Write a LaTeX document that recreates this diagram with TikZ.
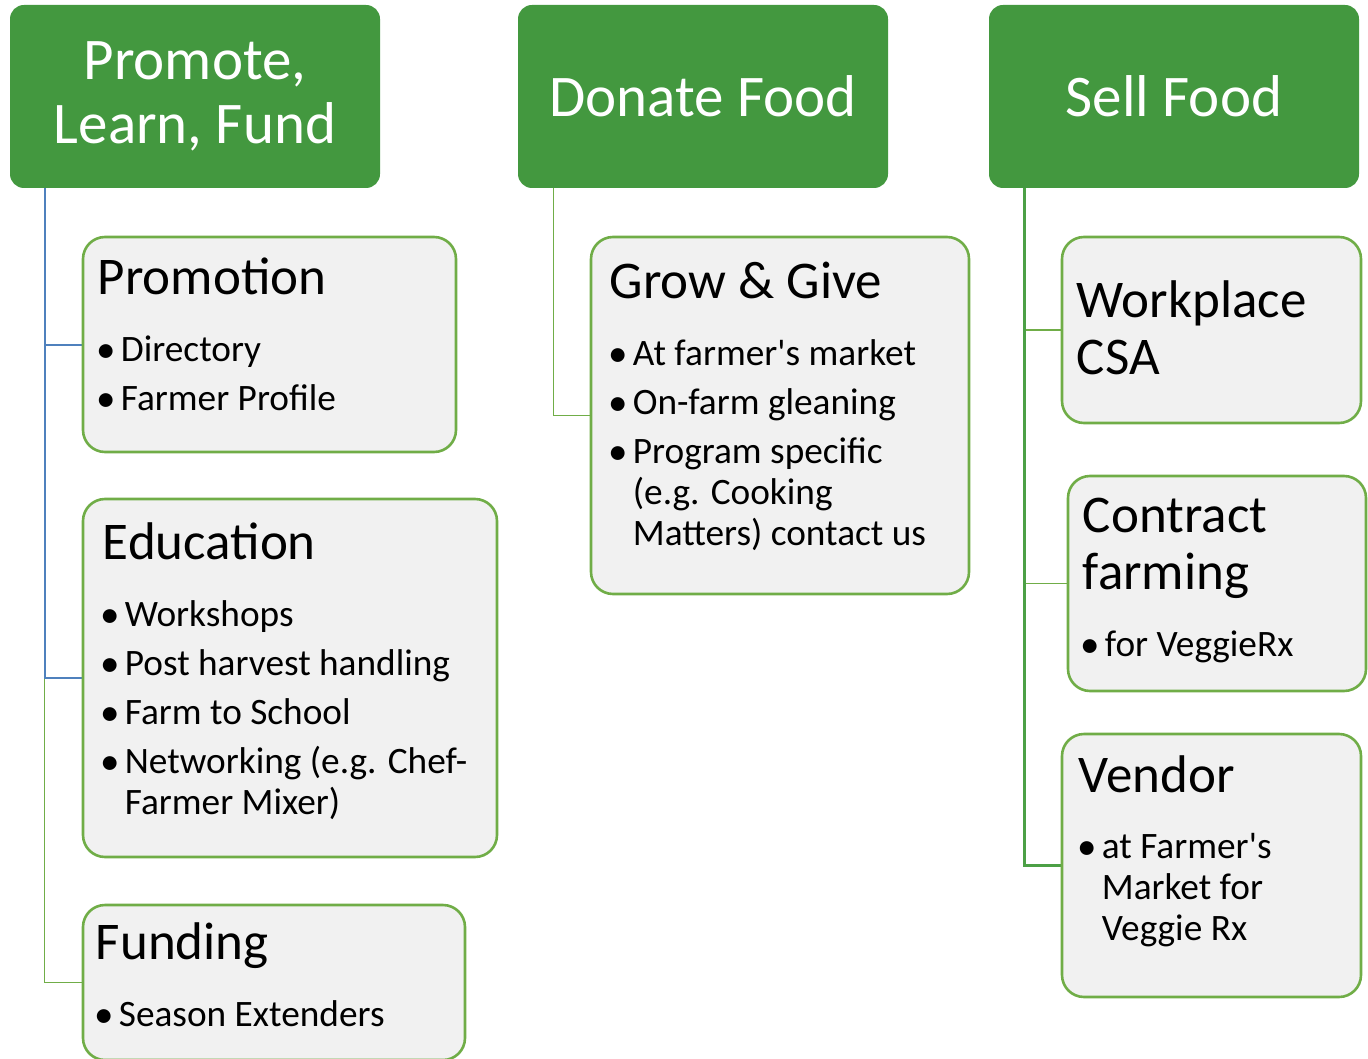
\documentclass[tikz,border=0pt]{standalone}
\usepackage{fontspec}
\setmainfont{Carlito}
\usepackage{tikz}
\usetikzlibrary{backgrounds}

\definecolor{hdrgreen}{RGB}{67,152,63}
\definecolor{boxgreen}{RGB}{112,173,71}
\definecolor{boxgray}{RGB}{241,241,241}
\definecolor{linkblue}{RGB}{79,129,189}
\definecolor{linkgreen}{RGB}{76,160,70}

% one bullet item with hanging indent
\newcommand{\bul}[1]{\par\hangindent=24pt\hangafter=1\noindent
  \makebox[24pt][l]{\raisebox{-0.5pt}{\fontsize{39}{39}\selectfont\textbullet}}#1\par}
% top-aligned block, baseline = first line
\newcommand{\topblock}[1]{\vtop{\hsize=420pt\parskip=8pt\parindent=0pt #1}}

\begin{document}
\begin{tikzpicture}[x=1pt,y=1pt]
      \tikzset{header/.style={fill=hdrgreen,
          rounded corners=14pt,
          text=white,
          minimum width=370pt,
          minimum height=183pt,
          inner sep=0pt,
          align=center,
          font=\fontsize{59}{64}\selectfont},
        item box/.style={draw=boxgreen, line width=2.6pt, fill=boxgray,
          rounded corners=22pt, inner sep=0pt},
        box title/.style={anchor=base west, inner sep=0pt,
          font=\fontsize{53}{57}\selectfont},
        bullets/.style={anchor=base west, inner sep=0pt,
          font=\fontsize{37.3}{41}\selectfont},
        link thin/.style={draw=boxgreen, line width=1.3pt},
        link blue/.style={draw=linkblue, line width=2pt},
        link thick/.style={draw=linkgreen, line width=3pt}
      }
      \useasboundingbox (0,0) rectangle (1368,-1059);

      % headers
      \node [header] (hA) at (195,-96.5) {Promote,\\Learn, Fund};
      \node [header] (hB) at (703,-96.5) {Donate Food};
      \node [header] (hC) at (1174,-96.5) {Sell Food};

      % boxes
      \node [item box, minimum width=373pt, minimum height=215pt] (promo) at (269.5,-344.5) {};
      \node [item box, minimum width=414pt, minimum height=358pt] (edu) at (290,-678) {};
      \node [item box, minimum width=382pt, minimum height=155pt] (fund) at (274,-982.5) {};
      \node [item box, minimum width=378pt, minimum height=357pt] (grow) at (780,-415.5) {};
      \node [item box, minimum width=299pt, minimum height=186pt] (work) at (1211.5,-330) {};
      \node [item box, minimum width=298pt, minimum height=215pt] (contr) at (1217,-583.5) {};
      \node [item box, minimum width=299pt, minimum height=263pt] (vend) at (1211.5,-865.5) {};

      % connectors
      \begin{pgfonlayer}{background}
        \draw [link thin] ([xshift=35pt]hA.south west) |- (fund.west);
        \draw [link blue] ([xshift=35pt]hA.south west) |- (promo.west);
        \draw [link blue] ([xshift=35pt]hA.south west) |- (edu.west);
        \draw [link thin] ([xshift=36pt]hB.south west) |- (grow.west);
        \draw [link thin] ([xshift=36pt]hC.south west) |- (work.west);
        \draw [link thin] ([xshift=36pt]hC.south west) |- (contr.west);
        \draw [link thick] ([xshift=36pt]hC.south west) |- (vend.west);
      \end{pgfonlayer}

      % texts
      \node [box title] (promoT) at ([shift={(16,-59)}]promo.north west) {Promotion};
      \node [bullets] (promoL) at ([shift={(15,-126)}]promo.north west)
        {\topblock{\bul{Directory}\bul{Farmer Profile}}};

      \node [box title] (eduT) at ([shift={(21,-62)}]edu.north west) {Education};
      \node [bullets] (eduL) at ([shift={(19,-129)}]edu.north west)
        {\topblock{\bul{Workshops}\bul{Post harvest handling}\bul{Farm to School}%
         \bul{Networking (e.g. Chef-\newline Farmer Mixer)}}};

      \node [box title] (fundT) at ([shift={(14,-56)}]fund.north west) {Funding};
      \node [bullets] (fundL) at ([shift={(13,-123)}]fund.north west)
        {\topblock{\bul{Season Extenders}}};

      \node [box title] (growT) at ([shift={(20,-63)}]grow.north west) {Grow \& Give};
      \node [bullets] (growL) at ([shift={(19,-130)}]grow.north west)
        {\topblock{\bul{At farmer\textquotesingle s market}\bul{On-farm gleaning}%
         \bul{Program specific\newline (e.g. Cooking\newline Matters) contact us}}};

      \node [box title] (workT) at ([shift={(16,-82)}]work.north west)
        {\topblock{Workplace\\CSA}};

      \node [box title] (contrT) at ([shift={(16,-58)}]contr.north west)
        {\topblock{Contract\\farming}};
      \node [bullets] (contrL) at ([shift={(14,-182)}]contr.north west)
        {\topblock{\bul{for VeggieRx}}};

      \node [box title] (vendT) at ([shift={(18,-60)}]vend.north west) {Vendor};
      \node [bullets] (vendL) at ([shift={(17,-126)}]vend.north west)
        {\topblock{\bul{at Farmer\textquotesingle s\newline Market for\newline Veggie Rx}}};

    \end{tikzpicture}
\end{document}
